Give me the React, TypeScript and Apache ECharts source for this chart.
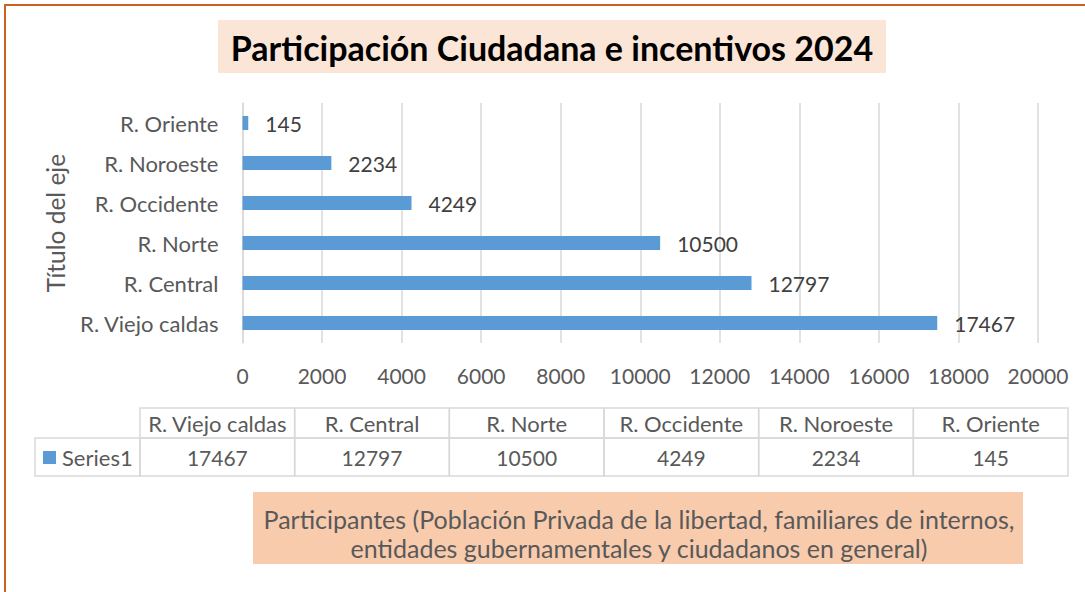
import React, { useEffect, useRef } from "react";
import * as echarts from "echarts";

const categories = ["R. Viejo caldas", "R. Central", "R. Norte", "R. Occidente", "R. Noroeste", "R. Oriente"];
const values = [17467, 12797, 10500, 4249, 2234, 145];
const seriesName = "Series1";
const titleText = "Participación Ciudadana e incentivos 2024";
const yAxisTitle = "Título del eje";
const xAxisTitleLines = [
  "Participantes (Población Privada de la libertad, familiares de internos,",
  "entidades gubernamentales y ciudadanos en general)",
];

const FONT = "Lato";
const GRAY = "#595959";
const BAR = "#5B9BD5";

export default function App() {
  const ref = useRef<HTMLDivElement>(null);
  useEffect(() => {
    if (!ref.current) return;
    const chart = echarts.init(ref.current, null, { renderer: "svg" });

    const tableLeft = 140;
    const tableRight = 1068;
    const colW = (tableRight - tableLeft) / categories.length;
    const hTop = 408, hMid = 438, hBot = 476;
    const cells: any[] = [];
    categories.forEach((c, i) => {
      const x = tableLeft + i * colW;
      cells.push({
        type: "rect",
        shape: { x, y: hTop, width: colW, height: hMid - hTop },
        style: { fill: "none", stroke: "#D9D9D9", lineWidth: 1.5 },
      });
      cells.push({
        type: "rect",
        shape: { x, y: hMid, width: colW, height: hBot - hMid },
        style: { fill: "none", stroke: "#D9D9D9", lineWidth: 1.5 },
      });
      cells.push({
        type: "text",
        x: x + colW / 2,
        y: (hTop + hMid) / 2,
        style: { text: c, fill: GRAY, font: `22px ${FONT}`, align: "center", verticalAlign: "middle" },
      });
      cells.push({
        type: "text",
        x: x + colW / 2,
        y: 457,
        style: { text: String(values[i]), fill: GRAY, font: `21px ${FONT}`, align: "center", verticalAlign: "middle" },
      });
    });
    cells.push({
      type: "rect",
      shape: { x: 35, y: hMid, width: tableLeft - 35, height: hBot - hMid },
      style: { fill: "none", stroke: "#D9D9D9", lineWidth: 1.5 },
    });
    cells.push({
      type: "rect",
      shape: { x: 43, y: 451, width: 13, height: 13 },
      style: { fill: BAR },
    });
    cells.push({
      type: "text",
      x: 62,
      y: 457,
      style: { text: seriesName, fill: GRAY, font: `22px ${FONT}`, align: "left", verticalAlign: "middle" },
    });

    chart.setOption({
      animation: false,
      backgroundColor: "#ffffff",
      grid: { left: 242.5, right: 1085 - 1038, top: 103, bottom: 592 - 343, containLabel: false },
      xAxis: {
        type: "value",
        min: 0,
        max: 20000,
        interval: 2000,
        axisLine: { show: false },
        axisTick: { show: false },
        axisLabel: { color: GRAY, fontFamily: FONT, fontSize: 21, margin: 22, formatter: (v: number) => String(v) },
        splitLine: { lineStyle: { color: "#D9D9D9", width: 1.5 } },
      },
      yAxis: {
        type: "category",
        data: categories,
        axisLine: { show: true, lineStyle: { color: "#D9D9D9", width: 1.5 } },
        axisTick: { show: false },
        axisLabel: { color: GRAY, fontFamily: FONT, fontSize: 22, margin: 24 },
        name: yAxisTitle,
        nameLocation: "middle",
        nameRotate: 90,
        nameGap: 174,
        nameTextStyle: { color: GRAY, fontFamily: FONT, fontSize: 24.5 },
      },
      series: [
        {
          type: "bar",
          name: seriesName,
          data: values,
          barWidth: 14,
          itemStyle: { color: BAR },
          label: {
            show: true,
            position: "right",
            distance: 17,
            color: "#404040",
            fontFamily: FONT,
            fontSize: 21,
          },
        },
      ],
      graphic: [
        {
          type: "rect",
          shape: { x: 5, y: 5, width: 1200, height: 700 },
          style: { fill: "none", stroke: "#C8641E", lineWidth: 2 },
          z: 10,
        },
        {
          type: "rect",
          shape: { x: 218, y: 20, width: 668, height: 53 },
          style: { fill: "#FBE5D6" },
        },
        {
          type: "text",
          x: 552,
          y: 47,
          style: { text: titleText, fill: "#000000", font: `bold 34px ${FONT}`, align: "center", verticalAlign: "middle" },
        },
        {
          type: "rect",
          shape: { x: 253, y: 492, width: 770, height: 72 },
          style: { fill: "#F8CBAD" },
        },
        {
          type: "text",
          x: 639,
          y: 519,
          style: { text: xAxisTitleLines[0], fill: GRAY, font: `25px ${FONT}`, align: "center", verticalAlign: "middle" },
        },
        {
          type: "text",
          x: 639,
          y: 548,
          style: { text: xAxisTitleLines[1], fill: GRAY, font: `25px ${FONT}`, align: "center", verticalAlign: "middle" },
        },
        ...cells,
      ],
    });
    return () => chart.dispose();
  }, []);
  return (
    <div
      ref={ref}
      style={{ position: "fixed", left: 0, top: 0, width: 1085, height: 592 }}
    />
  );
}
